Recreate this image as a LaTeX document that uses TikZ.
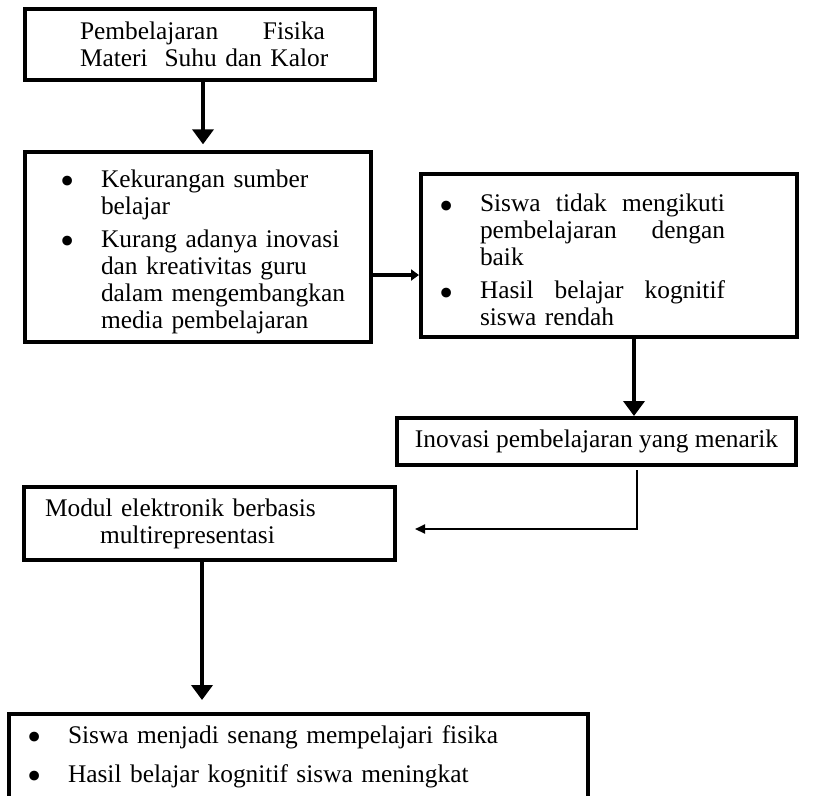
\documentclass[tikz,border=0pt]{standalone}
\usepackage{fontspec}
\setmainfont{Liberation Serif}
\usetikzlibrary{arrows.meta}

\newlength{\lekuk}
\newcommand{\butir}[1]{\par\hangindent=\lekuk\hangafter=1\noindent
  \makebox[\lekuk][r]{\raisebox{-0.145cm}{\scalebox{1.6}{\textbullet}}\hspace{0.52cm}}#1\par}

\begin{document}
\begin{tikzpicture}[
  font=\fontsize{14.45pt}{15.36pt}\selectfont,
  kotak/.style={draw, line width=0.08cm, align=left, inner sep=0.16cm},
  panah/.style={-{Triangle[width=0.42cm, length=0.3cm]}, line width=0.08cm},
  panahkecil/.style={-{Triangle[width=0.22cm, length=0.16cm]}, line width=0.065cm},
  panahtipis/.style={-{Triangle[width=0.18cm, length=0.2cm]}, line width=0.04cm},
]
  \useasboundingbox (0,0) rectangle (16.38,-15.9);
  \clip (0,0) rectangle (16.38,-15.9);

  \node[kotak, minimum width=7cm, minimum height=1.42cm, text width=5.6cm] (judul) at (4,-0.89)
    {\hspace*{0.4cm}\makebox[4.9cm]{Pembelajaran\hfill Fisika}\newline
     \hspace*{0.4cm}Materi\ \ Suhu dan Kalor};
  \node[kotak, minimum width=6.92cm, minimum height=3.76cm, text width=6.08cm] (masalah) at (3.96,-4.94)
    {\setlength{\lekuk}{1.1cm}%
     \butir{Kekurangan sumber\newline belajar}\vspace{0.12cm}
     \butir{Kurang adanya inovasi\newline dan kreativitas guru\newline dalam mengembangkan\newline media pembelajaran}};
  \node[kotak, minimum width=7.52cm, minimum height=3.26cm, text width=6.76cm] (dampak) at (12.18,-5.11)
    {\setlength{\lekuk}{0.8cm}%
     \butir{\makebox[4.9cm]{Siswa\hfill tidak\hfill mengikuti}\newline
            \makebox[4.9cm]{pembelajaran\hfill dengan}\newline baik}\vspace{0.12cm}
     \butir{\makebox[4.9cm]{Hasil\hfill belajar\hfill kognitif}\newline siswa rendah}};
  \node[kotak, minimum width=7.98cm, minimum height=0.94cm, align=center] (inovasi) at (11.93,-8.83)
    {Inovasi pembelajaran yang menarik};
  \node[kotak, minimum width=7.42cm, minimum height=1.46cm, text width=6.58cm] (modul) at (4.19,-10.47)
    {Modul elektronik berbasis\newline\hspace*{1.1cm}multirepresentasi};
  \node[kotak, anchor=north, inner ysep=0.04cm, minimum width=11.58cm, text width=11.14cm] (hasil) at (5.97,-14.24)
    {\setlength{\lekuk}{0.96cm}%
     \butir{Siswa menjadi senang mempelajari fisika}\vspace{0.24cm}
     \butir{Hasil belajar kognitif siswa meningkat\rule[-0.9cm]{0pt}{0.9cm}}};

  \draw[panah, shorten >=0.12cm] ([xshift=0.06cm]judul.south) -- ([xshift=0.06cm]judul.south |- masalah.north);
  \draw[panahkecil] ([yshift=-0.56cm]masalah.east) -- ([yshift=-0.56cm]masalah.east -| dampak.west);
  \draw[panah] ([xshift=0.5cm]dampak.south) -- ([xshift=0.5cm]dampak.south |- inovasi.north);
  \draw[panahtipis, shorten <=0.06cm] ([xshift=0.81cm]inovasi.south) |- ([xshift=0.36cm, yshift=-0.11cm]modul.east);
  \draw[panah, shorten >=0.24cm] ([xshift=-0.15cm]modul.south) -- ([xshift=-0.15cm]modul.south |- hasil.north);
\end{tikzpicture}
\end{document}
